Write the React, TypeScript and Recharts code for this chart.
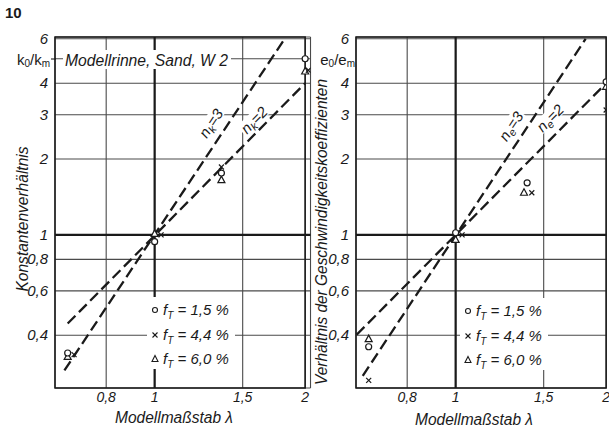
import React from "react";
import {
  ScatterChart,
  Scatter,
  XAxis,
  YAxis,
  CartesianGrid,
  ReferenceLine,
  ReferenceArea,
} from "recharts";

// axis ticks (log-log)
const xTicks = [0.8, 1, 1.5, 2];
const yTicksK = [0.4, 0.6, 0.8, 1, 2, 3, 4, 5, 6];
const yTicksE = [0.4, 0.6, 0.8, 1, 2, 3, 4, 6];

// left panel: k0/km
const kLineN3 = [{ x: 0.66, y: 0.29 }, { x: 1.82, y: 6.0 }];
const kLineN2 = [{ x: 0.67, y: 0.445 }, { x: 2.0, y: 4.0 }];
const kCircle = [{ x: 0.67, y: 0.34 }, { x: 1.0, y: 0.94 }, { x: 1.36, y: 1.76 }, { x: 2.0, y: 5.0 }];
const kCross = [{ x: 0.69, y: 0.335 }, { x: 1.03, y: 1.0 }, { x: 1.36, y: 1.86 }, { x: 2.03, y: 4.5 }];
const kTriangle = [{ x: 0.67, y: 0.328 }, { x: 1.0, y: 1.01 }, { x: 1.36, y: 1.65 }, { x: 2.0, y: 4.45 }];

// right panel: e0/em
const eLineN3 = [{ x: 0.652, y: 0.276 }, { x: 1.82, y: 6.0 }];
const eLineN2 = [{ x: 0.634, y: 0.402 }, { x: 2.0, y: 4.0 }];
const eCircle = [{ x: 0.67, y: 0.36 }, { x: 1.0, y: 1.02 }, { x: 1.39, y: 1.61 }, { x: 2.0, y: 4.05 }];
const eCross = [{ x: 0.67, y: 0.265 }, { x: 1.03, y: 1.0 }, { x: 1.42, y: 1.47 }, { x: 2.0, y: 3.13 }];
const eTriangle = [{ x: 0.67, y: 0.386 }, { x: 1.0, y: 0.955 }, { x: 1.37, y: 1.47 }, { x: 2.0, y: 3.87 }];

const legendItems = ["1,5", "4,4", "6,0"];

const X_MIN = 0.632;
const Y_MIN = 0.247;
const Y_MAX = 6.1;
const PX_PER_DECADE = 500;
const INK = "#1a1a1a";
const FONT = '"Liberation Sans", Arial, sans-serif';

const fmt = (v: number) => String(v).replace(".", ",");

const CircleMark = (p: any) => (
  <circle cx={p.cx} cy={p.cy} r={3} fill="#fff" stroke={INK} strokeWidth={1.2} />
);
const CrossMark = (p: any) => (
  <g stroke={INK} strokeWidth={1.2}>
    <line x1={p.cx - 2.5} y1={p.cy - 2.5} x2={p.cx + 2.5} y2={p.cy + 2.5} />
    <line x1={p.cx - 2.5} y1={p.cy + 2.5} x2={p.cx + 2.5} y2={p.cy - 2.5} />
  </g>
);
const TriangleMark = (p: any) => (
  <polygon
    points={`${p.cx},${p.cy - 4} ${p.cx - 3.5},${p.cy + 2.5} ${p.cx + 3.5},${p.cy + 2.5}`}
    fill="#fff"
    stroke={INK}
    strokeWidth={1.2}
  />
);
const NoMark = () => <g />;

const dashLine = { stroke: INK, strokeWidth: 2.3, strokeDasharray: "11 5" };

function Panel({ left, width, plotLeft, xMax, yTicks, lineN3, lineN2, circles, crosses, triangles }: any) {
  const plotW = PX_PER_DECADE * Math.log10(xMax / X_MIN);
  const mr = width - plotLeft - plotW;
  return (
    <div style={{ position: "absolute", left, top: 0 }}>
      <ScatterChart width={width} height={432} margin={{ top: 37, right: mr, bottom: 14, left: 0 }}>
        <CartesianGrid stroke="#4a4a4a" strokeWidth={1.1} />
        <XAxis
          type="number"
          dataKey="x"
          scale="log"
          domain={[X_MIN, xMax]}
          allowDataOverflow
          ticks={xTicks}
          interval={0}
          axisLine={false}
          tickLine={false}
          height={30}
          tick={(p: any) => (
            <text x={p.x} y={402} textAnchor="middle" fontFamily={FONT} fontStyle="italic" fontSize={14} fill={INK}>
              {fmt(p.payload.value)}
            </text>
          )}
        />
        <YAxis
          type="number"
          dataKey="y"
          scale="log"
          domain={[Y_MIN, Y_MAX]}
          allowDataOverflow
          ticks={yTicks}
          interval={0}
          axisLine={false}
          tickLine={false}
          width={plotLeft}
          tick={(p: any) =>
            p.payload.value === 5 ? (
              <g />
            ) : (
              <text x={plotLeft - 7} y={p.y + 5} textAnchor="end" fontFamily={FONT} fontStyle="italic" fontSize={15} fill={INK}>
                {fmt(p.payload.value)}
              </text>
            )
          }
        />
        <ReferenceArea x1={X_MIN} x2={2} y1={Y_MIN} y2={Y_MAX} fill="none" stroke={INK} strokeWidth={1.5} ifOverflow="visible" />
        <ReferenceLine x={1} stroke={INK} strokeWidth={2.2} />
        <ReferenceLine y={1} stroke={INK} strokeWidth={2.2} />
        <Scatter data={lineN3} dataKey="y" fill="none" line={dashLine} shape={NoMark} isAnimationActive={false} />
        <Scatter data={lineN2} dataKey="y" fill="none" line={dashLine} shape={NoMark} isAnimationActive={false} />
        <Scatter data={triangles} dataKey="y" shape={TriangleMark} isAnimationActive={false} />
        <Scatter data={circles} dataKey="y" shape={CircleMark} isAnimationActive={false} />
        <Scatter data={crosses} dataKey="y" shape={CrossMark} isAnimationActive={false} />
      </ScatterChart>
    </div>
  );
}

const legendMarks = [
  (x: number, y: number) => <circle cx={x} cy={y} r={2.5} fill="#fff" stroke={INK} strokeWidth={1.1} />,
  (x: number, y: number) => (
    <g stroke={INK} strokeWidth={1.1}>
      <line x1={x - 2.5} y1={y - 2.5} x2={x + 2.5} y2={y + 2.5} />
      <line x1={x - 2.5} y1={y + 2.5} x2={x + 2.5} y2={y - 2.5} />
    </g>
  ),
  (x: number, y: number) => (
    <polygon points={`${x},${y - 3.5} ${x - 3},${y + 2.5} ${x + 3},${y + 2.5}`} fill="#fff" stroke={INK} strokeWidth={1.1} />
  ),
];

function Legend({ x, y }: { x: number; y: number }) {
  const rows = [y, y + 25, y + 49];
  return (
    <g>
      <rect x={x - 8} y={y - 13} width={88} height={72} fill="#fff" />
      {legendItems.map((v, i) => (
        <g key={v}>
          {legendMarks[i](x, rows[i])}
          <text x={x + 8} y={rows[i] + 5} fontFamily={FONT} fontStyle="italic" fontSize={15} fill={INK}>
            <tspan>f</tspan>
            <tspan dy={4} fontSize={10}>T</tspan>
            <tspan dy={-4}>{` = ${v} %`}</tspan>
          </text>
        </g>
      ))}
    </g>
  );
}

function LineLabel({ cx, cy, angle, sub, n }: any) {
  return (
    <g transform={`translate(${cx},${cy}) rotate(${angle})`}>
      <rect x={-17} y={-9} width={34} height={14} fill="#fff" />
      <text x={0} y={4} textAnchor="middle" fontFamily={FONT} fontStyle="italic" fontSize={15} fill={INK}>
        <tspan>n</tspan>
        <tspan dy={3} fontSize={11}>{sub}</tspan>
        <tspan dy={-3}>{`=${n}`}</tspan>
      </text>
    </g>
  );
}

export default function App() {
  return (
    <div style={{ position: "fixed", left: 0, top: 0, width: 609, height: 432, background: "#fff", overflow: "hidden" }}>
      <Panel
        left={0}
        width={312}
        plotLeft={55}
        xMax={2.05}
        yTicks={yTicksK}
        lineN3={kLineN3}
        lineN2={kLineN2}
        circles={kCircle}
        crosses={kCross}
        triangles={kTriangle}
      />
      <Panel
        left={300}
        width={309}
        plotLeft={56}
        xMax={2.0}
        yTicks={yTicksE}
        lineN3={eLineN3}
        lineN2={eLineN2}
        circles={eCircle}
        crosses={eCross}
        triangles={eTriangle}
      />
      <svg width={609} height={432} style={{ position: "absolute", left: 0, top: 0, pointerEvents: "none" }}>
        <text x={5} y={18} fontFamily={FONT} fontWeight="bold" fontSize={15} fill={INK}>10</text>

        <text x={50} y={65} textAnchor="end" fontFamily={FONT} fontSize={15} fill={INK}>
          <tspan>k</tspan>
          <tspan dy={2} fontSize={10}>0</tspan>
          <tspan dy={-2}>/k</tspan>
          <tspan dy={2} fontSize={10}>m</tspan>
        </text>
        <line x1={51} y1={59} x2={56} y2={59} stroke={INK} strokeWidth={1.1} />
        <text x={355} y={65} textAnchor="end" fontFamily={FONT} fontSize={15} fill={INK}>
          <tspan>e</tspan>
          <tspan dy={2} fontSize={10}>0</tspan>
          <tspan dy={-2}>/e</tspan>
          <tspan dy={2} fontSize={10}>m</tspan>
        </text>

        <rect x={63} y={50} width={168} height={19} fill="#fff" />
        <text x={65} y={66} fontFamily={FONT} fontStyle="italic" fontSize={16} fill={INK} textLength={163} lengthAdjust="spacingAndGlyphs">
          Modellrinne, Sand, W 2
        </text>

        <text
          transform="translate(28,219) rotate(-90)"
          textAnchor="middle"
          fontFamily={FONT}
          fontStyle="italic"
          fontSize={16}
          fill={INK}
          textLength={145}
          lengthAdjust="spacingAndGlyphs"
        >
          Konstantenverhältnis
        </text>
        <text
          transform="translate(327,232) rotate(-90)"
          textAnchor="middle"
          fontFamily={FONT}
          fontStyle="italic"
          fontSize={16}
          fill={INK}
          textLength={306}
          lengthAdjust="spacingAndGlyphs"
        >
          Verhältnis der Geschwindigkeitskoeffizienten
        </text>

        <text x={174} y={423} textAnchor="middle" fontFamily={FONT} fontStyle="italic" fontSize={16} fill={INK} textLength={118} lengthAdjust="spacingAndGlyphs">
          Modellmaßstab λ
        </text>
        <text x={474} y={425} textAnchor="middle" fontFamily={FONT} fontStyle="italic" fontSize={16} fill={INK} textLength={118} lengthAdjust="spacingAndGlyphs">
          Modellmaßstab λ
        </text>

        <Legend x={155} y={310} />
        <Legend x={468} y={311} />

        <LineLabel cx={212} cy={124} angle={-56.5} sub="k" n={3} />
        <LineLabel cx={255} cy={121} angle={-45.2} sub="k" n={2} />
        <LineLabel cx={512} cy={127} angle={-56.5} sub="e" n={3} />
        <LineLabel cx={551} cy={119} angle={-45.2} sub="e" n={2} />
      </svg>
    </div>
  );
}
